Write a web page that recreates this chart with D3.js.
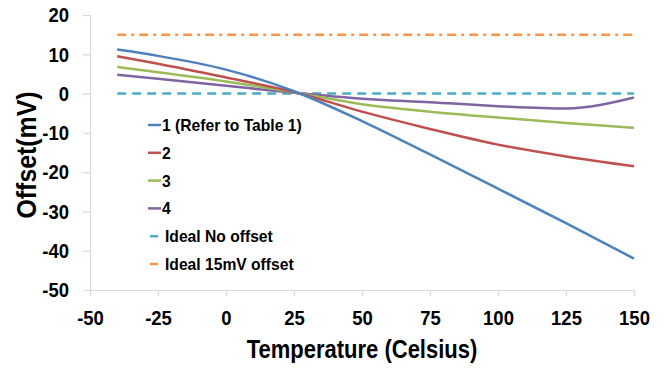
<!DOCTYPE html>
<html>
<head>
<meta charset="utf-8">
<script src="https://cdn.jsdelivr.net/npm/d3@7"></script>
<style>
  body { margin: 0; background: #fff; }
  text { font-family: "Liberation Sans", Arial, sans-serif; font-weight: bold; fill: #000; }
</style>
</head>
<body>
<div id="chart"></div>
<script>
var width  = 670;
var height = 373;

// ---------- data ----------
var temps   = [-40, -25, 0, 25, 50, 75, 100, 125, 150];
var series1 = [11.2, 9.6, 6.1, 0.6, -7, -15.5, -24.2, -33, -42];
var series2 = [9.5, 7.6, 4.1, 0.4, -4.6, -9, -13, -16, -18.5];
var series3 = [6.8, 5.4, 3.1, 0.3, -2.7, -4.6, -6.1, -7.5, -8.7];
var series4 = [4.8, 3.8, 2, 0.2, -1.3, -2.2, -3.2, -3.8, -1.0];
var idealNone = [0, 0];
var ideal15   = [15, 15];
var idealTemps = [-40, 150];

var xTicks = [-50, -25, 0, 25, 50, 75, 100, 125, 150];
var yTicks = [20, 10, 0, -10, -20, -30, -40, -50];

var legendNames = ["1 (Refer to Table 1)", "2", "3", "4", "Ideal No offset", "Ideal 15mV offset"];

// squeeze Arial-like text so it looks like the narrow original font
function condense(sel, f) {
  sel.each(function(){
    var w = this.getComputedTextLength();
    d3.select(this).attr("textLength", w * f).attr("lengthAdjust", "spacingAndGlyphs");
  });
}

// ---------- scales ----------
var x = d3.scaleLinear().domain([-50, 150]).range([90, 634]);
var y = d3.scaleLinear().domain([-50, 20]).range([290, 15]);

var svg = d3.select("#chart").append("svg")
    .attr("width", width)
    .attr("height", height);

// axes
var xAxis = svg.append("g")
    .attr("transform", "translate(0," + y(-50) + ")")
    .call(d3.axisBottom(x).tickValues(xTicks).tickSize(6).tickPadding(14)
      .tickFormat(function(d){ return String(d); }));
var yAxis = svg.append("g")
    .attr("transform", "translate(" + x(-50) + ",0)")
    .call(d3.axisLeft(y).tickValues(yTicks).tickSize(7).tickPadding(14)
      .tickFormat(function(d){ return String(d); }));

[xAxis, yAxis].forEach(function(a){
  a.select(".domain").attr("stroke", "#d9d9d9").attr("stroke-width", 1.2);
  a.selectAll(".tick line").attr("stroke", "#d9d9d9").attr("stroke-width", 1.2);
  a.selectAll(".tick text")
    .style("font-family", "'Liberation Sans', Arial, sans-serif")
    .style("font-weight", "bold")
    .style("font-size", "21px")
    .attr("fill", "#000")
    .call(condense, 0.88);
});

// axis titles
svg.append("text")
    .attr("x", (x(-50) + x(150)) / 2)
    .attr("y", 358)
    .attr("text-anchor", "middle")
    .style("font-size", "25px")
    .text("Temperature (Celsius)")
    .call(condense, 0.88);

svg.append("text")
    .attr("transform", "translate(36," + 155 + ") rotate(-90)")
    .attr("text-anchor", "middle")
    .style("font-size", "27px")
    .text("Offset(mV)")
    .call(condense, 0.92);

// ---------- lines ----------
var line = d3.line()
    .x(function(d){ return x(d[0]); })
    .y(function(d){ return y(d[1]); })
    .curve(d3.curveMonotoneX);

var refLines = [
  {vals: ideal15,   color: "#f79646", dash: "9,5,3,5"},
  {vals: idealNone, color: "#4bacc6", dash: "9,6"}
];
refLines.forEach(function(r){
  svg.append("path")
    .datum(d3.zip(idealTemps, r.vals))
    .attr("d", line)
    .attr("fill", "none")
    .attr("stroke", r.color)
    .attr("stroke-width", 2.5)
    .attr("stroke-dasharray", r.dash);
});

var curves = [
  {vals: series4, color: "#8064a2"},
  {vals: series3, color: "#9bbb59"},
  {vals: series2, color: "#c0504d"},
  {vals: series1, color: "#4f81bd"}
];
curves.forEach(function(c){
  svg.append("path")
    .datum(d3.zip(temps, c.vals))
    .attr("d", line)
    .attr("fill", "none")
    .attr("stroke", c.color)
    .attr("stroke-width", 2.5);
});

// ---------- legend ----------
var legendColors = ["#4f81bd", "#c0504d", "#9bbb59", "#8064a2", "#4bacc6", "#f79646"];
var legend = svg.append("g").attr("transform", "translate(148,125)");
legendNames.forEach(function(name, i){
  var g = legend.append("g").attr("transform", "translate(0," + (i * 27.8) + ")");
  var dashed = i >= 4;
  g.append("line")
    .attr("x1", dashed ? 2 : 0).attr("x2", dashed ? 10 : 13)
    .attr("y1", 0).attr("y2", 0)
    .attr("stroke", legendColors[i])
    .attr("stroke-width", 2.5);
  g.append("text")
    .attr("x", dashed ? 17 : 14)
    .attr("y", 6)
    .style("font-size", "17px")
    .text(name)
    .call(condense, 0.92);
});
</script>
</body>
</html>
